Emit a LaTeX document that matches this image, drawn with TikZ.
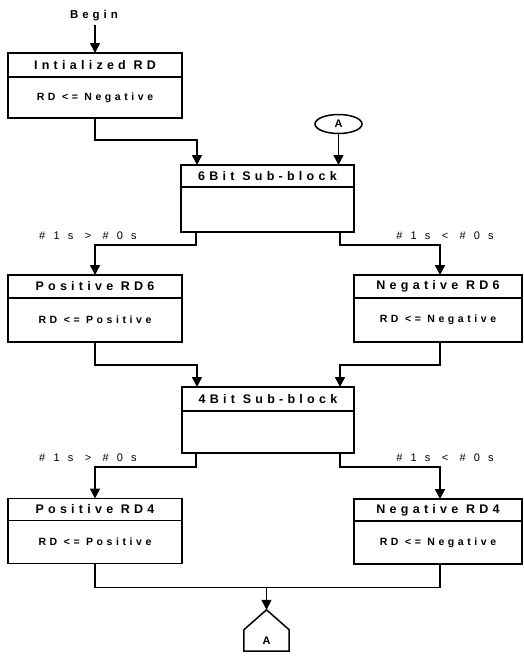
\documentclass[tikz,border=0pt]{standalone}
\usepackage{fontspec}
\setmainfont{Liberation Sans}
\newfontfamily\boxfont[LetterSpace=34]{Liberation Sans}
\newfontfamily\condfont[LetterSpace=75]{Liberation Sans}
\usetikzlibrary{positioning,shapes.geometric,arrows.meta}

\begin{document}
\begin{tikzpicture}[x=1pt,y=1pt,
  hdr/.style={draw, line width=1.6pt, outer sep=0pt, inner sep=0pt, minimum width=174pt, minimum height=23pt, font=\boxfont\bfseries\fontsize{12.5}{14}\selectfont},
  body/.style={draw, line width=1.6pt, outer sep=0pt, inner sep=0pt, minimum width=174pt, minimum height=43pt, font=\boxfont\bfseries\fontsize{10.5}{12}\selectfont},
  cond/.style={font=\condfont\fontsize{11}{13}\selectfont},
  flow/.style={line width=1.5pt},
  arr/.style={flow, -{Triangle[length=10pt,width=10pt]}}]
\useasboundingbox (0,0) rectangle (523,-656);

% start
\node[font=\boxfont\bfseries\fontsize{11.5}{13}\selectfont] (begin) at (94,-16) {Begin};
\node[hdr, minimum height=24pt] (inith) at (95,-65) {Intialized RD};
\node[body, below=0pt of inith, minimum height=41pt] (initb) {RD <= Negative};
\node[draw, ellipse, line width=1.5pt, minimum width=47pt, minimum height=19pt, inner sep=0pt, font=\bfseries\fontsize{11}{13}\selectfont] (ovalA) at (338.5,-124) {A};

% 6 bit block
\node[hdr, minimum height=22pt, minimum width=173pt] (bit6h) at (267.5,-176) {6Bit Sub-block};
\node[body, below=0pt of bit6h, minimum height=45pt, minimum width=173pt] (bit6b) {};
\node[hdr] (pos6h) at (95,-286.5) {Positive RD6};
\node[body, below=0pt of pos6h, minimum height=44pt] (pos6b) {RD <= Positive};
\node[hdr, minimum width=168pt] (neg6h) at (438,-286.5) {Negative RD6};
\node[body, below=0pt of neg6h, minimum height=44pt, minimum width=168pt] (neg6b) {RD <= Negative};
\node[cond] (gt6) at (88,-236) {\#1s > \#0s};
\node[cond] (lt6) at (445,-236) {\#1s < \#0s};

% 4 bit block
\node[hdr, minimum height=24pt, minimum width=172pt] (bit4h) at (268,-399) {4Bit Sub-block};
\node[body, below=0pt of bit4h, minimum height=42pt, minimum width=172pt] (bit4b) {};
\node[hdr, minimum height=22pt] (pos4h) at (95,-509.5) {Positive RD4};
\node[body, below=0pt of pos4h] (pos4b) {RD <= Positive};
\node[hdr, minimum height=22pt, minimum width=168pt] (neg4h) at (438,-510) {Negative RD4};
\node[body, below=0pt of neg4h, minimum width=168pt] (neg4b) {RD <= Negative};
\node[cond] (gt4) at (88,-458) {\#1s > \#0s};
\node[cond] (lt4) at (445,-458) {\#1s < \#0s};

% off-page connector
\node[minimum width=45pt, minimum height=21pt, inner sep=0pt, font=\bfseries\fontsize{11}{13}\selectfont] (offA) at (266.5,-640.5) {A};
\coordinate (apex) at ([yshift=20pt]offA.north);
\draw[flow] (offA.north west) -- (offA.south west) -- (offA.south east) -- (offA.north east) -- (apex) -- cycle;

% connectors
\draw[arr] (begin.south -| inith.north) -- (inith.north);
\draw[arr] (initb.south) -- ++(0,-22) -| ([xshift=-70.5pt]bit6h.north);
\draw[arr] (ovalA) -- (ovalA |- bit6h.north);
\draw[arr] ([xshift=-71.5pt]bit6b.south) -- ++(0,-13) -| (pos6h.north);
\draw[arr] ([xshift=72.5pt]bit6b.south) -- ++(0,-13) -| ([xshift=2pt]neg6h.north);
\draw[arr] (pos6b.south) -- ++(0,-23) -| ([xshift=-71pt]bit4h.north);
\draw[arr] ([xshift=2pt]neg6b.south) -- ++(0,-23) -| ([xshift=72pt]bit4h.north);
\draw[arr] ([xshift=-72pt]bit4b.south) -- ++(0,-14) -| (pos4h.north);
\draw[arr] ([xshift=72pt]bit4b.south) -- ++(0,-14) -| ([xshift=2pt]neg4h.north);
\draw[flow] (pos4b.south) -- ++(0,-24) coordinate (join) -| ([xshift=2pt]neg4b.south);
\draw[arr] (join -| apex) -- (apex);
\end{tikzpicture}
\end{document}
